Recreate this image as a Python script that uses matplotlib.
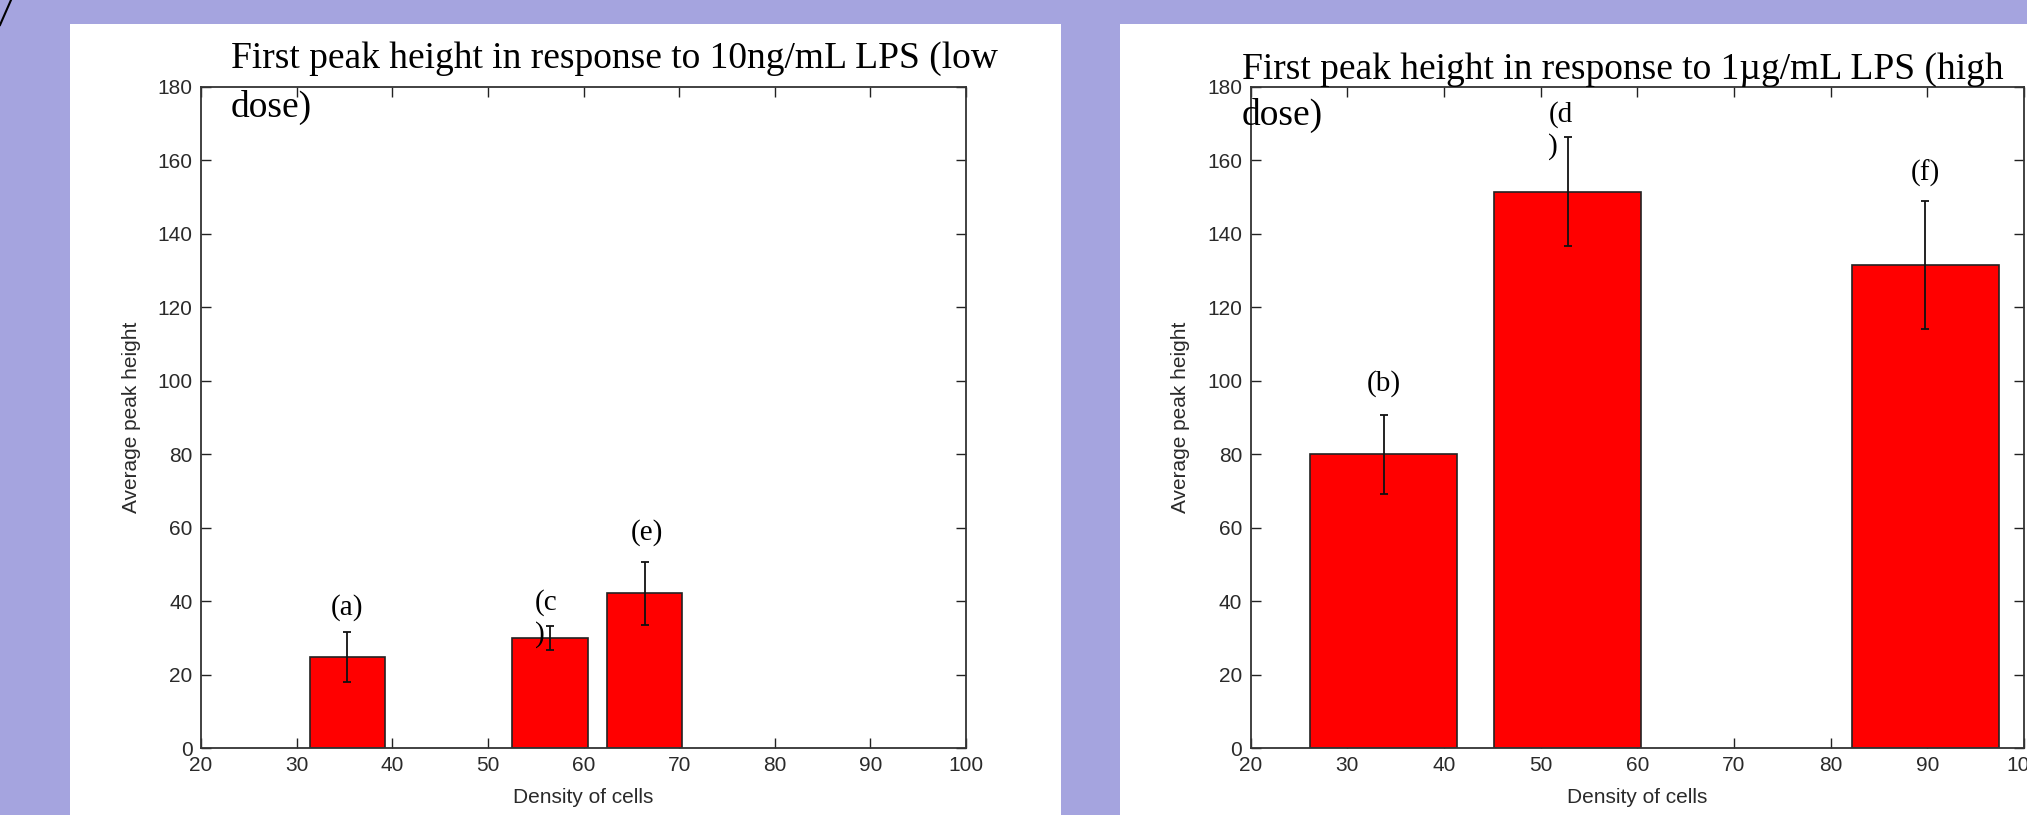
import matplotlib
matplotlib.use("Agg")
import matplotlib.pyplot as plt
from matplotlib.patches import Rectangle
from matplotlib.lines import Line2D

# low dose (10ng/mL)
low_x = [35.3, 56.5, 66.4]
low_h = [24.8, 29.9, 42.1]
low_err = [6.7, 3.3, 8.5]
low_width = 7.9

# high dose (1ug/mL)
high_x = [33.8, 52.8, 89.8]
high_h = [80.0, 151.5, 131.5]
high_err = [10.8, 14.9, 17.5]
high_width = 15.2

# annotation labels: text, x, y (top of text), alignment
low_labels = [("(a)", 35.3, 42.0, "center"), ("(c\n)", 54.9, 43.3, "left"), ("(e)", 66.6, 62.3, "center")]
high_labels = [("(b)", 33.8, 103.0, "center"), ("(d\n)", 50.8, 176.3, "left"), ("(f)", 89.8, 160.3, "center")]

titles = ["First peak height in response to 10ng/mL LPS (low", "First peak height in response to 1\u00b5g/mL LPS (high"]

W, H = 2027, 815
bg = "#A5A4DF"
fig = plt.figure(figsize=(W / 100, H / 100), dpi=100, facecolor=bg)

def fx(x):
    return x / W

def fy(y):
    return 1 - y / H

# white slide panels
fig.add_artist(Rectangle((fx(70), 0), fx(1061) - fx(70), fy(24), transform=fig.transFigure,
                         facecolor="white", edgecolor="none", zorder=0))
fig.add_artist(Rectangle((fx(1120), 0), 1 - fx(1120), fy(24), transform=fig.transFigure,
                         facecolor="white", edgecolor="none", zorder=0))
# bit of the slide border in the corner
fig.add_artist(Line2D([fx(0), fx(11)], [fy(25), fy(0)], transform=fig.transFigure, color="black", lw=1.5))

ax1 = fig.add_axes([fx(201), fy(748), (966 - 201) / W, (748 - 87) / H])
ax2 = fig.add_axes([fx(1250.5), fy(748), (2024 - 1250.5) / W, (748 - 87) / H])

sans = "Liberation Sans"
for ax, xs, hs, es, wd, labels in [(ax1, low_x, low_h, low_err, low_width, low_labels),
                                   (ax2, high_x, high_h, high_err, high_width, high_labels)]:
    ax.bar(xs, hs, width=wd, color="#FF0000", edgecolor="#222222", linewidth=1.2, zorder=2)
    ax.errorbar(xs, hs, yerr=es, fmt="none", ecolor="#111111", elinewidth=1.3, capsize=3, capthick=1.3, zorder=3)
    ax.set_xlim(20, 100)
    ax.set_ylim(0, 180)
    ax.set_xticks(range(20, 101, 10))
    ax.set_yticks(range(0, 181, 20))
    ax.tick_params(direction="in", top=True, right=True, length=7, width=1, labelsize=15,
                   labelcolor="#2a2a2a", color="#222222", pad=6)
    for lab in ax.get_xticklabels() + ax.get_yticklabels():
        lab.set_family(sans)
    for s in ax.spines.values():
        s.set_linewidth(1.3)
        s.set_color("#333333")
    ax.set_xlabel("Density of cells", fontsize=15, family=sans, color="#2a2a2a", labelpad=9)
    ax.set_ylabel("Average peak height", fontsize=15, family=sans, color="#2a2a2a", labelpad=12)
    for txt, x, y, ha in labels:
        ax.text(x, y, txt, ha=ha, va="top", fontsize=21, family="Liberation Serif",
                linespacing=1.25, zorder=4)

# titles, wrapped like the original
fig.text(fx(231), fy(68), titles[0], fontsize=27, family="Liberation Serif", va="baseline", ha="left")
fig.text(fx(231), fy(117), "dose)", fontsize=27, family="Liberation Serif", va="baseline", ha="left")
fig.text(fx(1242), fy(79), titles[1], fontsize=27, family="Liberation Serif", va="baseline", ha="left")
fig.text(fx(1242), fy(125), "dose)", fontsize=27, family="Liberation Serif", va="baseline", ha="left")

fig.savefig("out.png", dpi=100, facecolor=bg)
